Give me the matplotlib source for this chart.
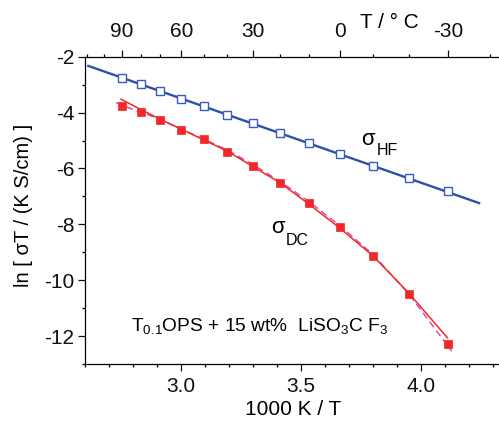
import numpy as np
import matplotlib
matplotlib.use("Agg")
import matplotlib.pyplot as plt
from matplotlib.ticker import MultipleLocator, FixedLocator, NullFormatter

plt.rcParams['font.family'] = ['Liberation Sans', 'DejaVu Sans']
plt.rcParams['mathtext.fontset'] = 'custom'
plt.rcParams['mathtext.rm'] = 'Liberation Sans'
plt.rcParams['mathtext.it'] = 'Liberation Sans'
plt.rcParams['mathtext.bf'] = 'Liberation Sans:bold'
plt.rcParams['axes.unicode_minus'] = False

# ---- data ----
inv_T = [2.754, 2.832, 2.914, 3.002, 3.095, 3.193, 3.299, 3.411, 3.532, 3.661, 3.800, 3.950, 4.113]
ln_sigma_hf = [-2.75, -2.98, -3.24, -3.50, -3.77, -4.07, -4.38, -4.72, -5.09, -5.47, -5.90, -6.33, -6.82]
ln_sigma_dc = [-3.75, -3.99, -4.27, -4.61, -4.96, -5.40, -5.90, -6.52, -7.24, -8.08, -9.14, -10.50, -12.27]

fit_hf_x = [2.614, 4.242]
fit_hf_y = [-2.33, -7.24]

fit_dc_x = [2.75, 2.83, 2.914, 3.002, 3.095, 3.193, 3.299, 3.411, 3.532, 3.661, 3.800, 3.950, 4.11]
fit_dc_y = [-3.52, -3.88, -4.24, -4.60, -4.98, -5.38, -5.93, -6.50, -7.27, -8.13, -9.13, -10.47, -12.06]

fit2_dc_x = [2.729, 2.80, 2.864, 2.914, 3.002, 3.095, 3.193, 3.299, 3.411, 3.532, 3.661, 3.800, 3.950, 4.128]
fit2_dc_y = [-3.64, -3.89, -4.08, -4.26, -4.59, -4.95, -5.34, -5.86, -6.45, -7.18, -8.04, -9.08, -10.50, -12.54]

top_major_C = [90, 60, 30, 0, -30]
top_minor_C = [110, 100, 80, 70, 50, 40, 20, 10, -10, -20, -40]

W, H = 499, 422
fig = plt.figure(figsize=(W / 100, H / 100), dpi=100)

def fx(x):
    return x / W

def fy(y):
    return 1 - y / H

ax = fig.add_axes([fx(85), 1 - 364 / H, (W - 85) / W, (364 - 56.7) / H])
ax.set_xlim(2.6, 2.6 + (W - 85) / 240)
ax.set_ylim(-13, -2)

blue = '#2f4fa6'
blue_m = '#3a5cc0'
red = '#f0282a'
pink = '#e0409a'

ax.plot(fit_hf_x, fit_hf_y, color=blue, lw=1.7, zorder=2)
ax.plot(inv_T, ln_sigma_hf, ls='none', marker='s', ms=5.6, mfc='white',
        mec=blue_m, mew=1.0, zorder=3)

ax.plot(fit2_dc_x, fit2_dc_y, color=pink, lw=1.0, ls=(0, (5, 3)), zorder=2)
ax.plot(fit_dc_x, fit_dc_y, color=red, lw=1.1, zorder=2)
ax.plot(inv_T, ln_sigma_dc, ls='none', marker='s', ms=5.6, mfc=red,
        mec=red, mew=0.5, zorder=3)

for s in ['left', 'bottom', 'top']:
    ax.spines[s].set_linewidth(0.9)
ax.spines['right'].set_visible(False)
ax.spines['top'].set_visible(False)

ax.xaxis.set_major_locator(FixedLocator([3.0, 3.5, 4.0]))
ax.xaxis.set_minor_locator(MultipleLocator(0.1))
ax.yaxis.set_major_locator(MultipleLocator(2))
ax.yaxis.set_minor_locator(MultipleLocator(1))
ax.xaxis.set_major_formatter(matplotlib.ticker.FormatStrFormatter('%.1f'))
ax.tick_params(which='major', direction='out', length=5, width=0.9, labelsize=15, colors='#111111')
ax.tick_params(which='minor', direction='out', length=2.5, width=0.9)
ax.tick_params(axis='x', which='major', pad=4)
ax.tick_params(axis='y', which='major', pad=2.5)
ax.tick_params(top=False, right=False, which='both')

def c_from_inv(x):
    x = np.asarray(x, dtype=float)
    with np.errstate(divide='ignore', invalid='ignore'):
        return 1000.0 / x - 273.15

def inv_from_c(t):
    t = np.asarray(t, dtype=float)
    with np.errstate(divide='ignore', invalid='ignore'):
        return 1000.0 / (t + 273.15)

sec = ax.secondary_xaxis('top', functions=(c_from_inv, inv_from_c))
sec.xaxis.set_major_locator(FixedLocator(top_major_C))
sec.xaxis.set_minor_locator(FixedLocator(top_minor_C))
sec.xaxis.set_minor_formatter(NullFormatter())
sec.tick_params(which='major', direction='out', length=5, width=0.9, labelsize=15, pad=6, colors='#111111')
sec.tick_params(which='minor', direction='out', length=2.5, width=0.9)
sec.spines['top'].set_linewidth(0.9)

# labels
fig.text(fx(293), fy(415), '1000 K / T', ha='center', va='baseline', fontsize=15)
fig.text(fx(24), fy(205), 'ln [ σT / (K S/cm) ]', ha='center', va='center',
         rotation=90, fontsize=14.5)
fig.text(fx(360), fy(28), 'T / ° C', ha='left', va='baseline', fontsize=15)

# annotations
fig.text(fx(361), fy(145), 'σ', ha='left', va='baseline', fontsize=16)
fig.text(fx(377), fy(155), 'HF', ha='left', va='baseline', fontsize=11.5)
fig.text(fx(271), fy(233), 'σ', ha='left', va='baseline', fontsize=16)
fig.text(fx(286), fy(245), 'DC', ha='left', va='baseline', fontsize=11.5)

fig.text(fx(131), fy(331),
         r'T$_{\mathrm{0.1}}$OPS + 15 wt%  LiSO$_{\mathrm{3}}$C F$_{\mathrm{3}}$',
         ha='left', va='baseline', fontsize=13.8)

fig.savefig('out.png', dpi=100)
